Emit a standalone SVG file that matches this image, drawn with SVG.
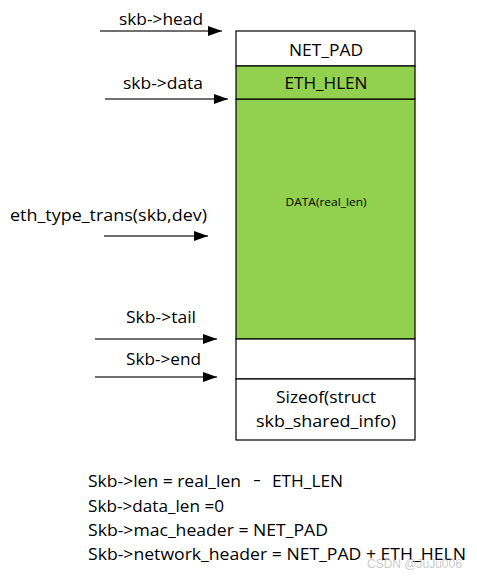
<svg xmlns="http://www.w3.org/2000/svg" width="477" height="577" viewBox="0 0 477 577">
<style>
.t{font-family:"Open Sans","Liberation Sans",sans-serif;font-size:17px;fill:#000}
.c{text-anchor:middle}
.box{stroke:#000;stroke-width:1.2}
.ln{stroke:#404040;stroke-width:1.5;fill:none}
</style>
<defs>
<marker id="ah" viewBox="0 0 14 10" refX="14" refY="5" markerWidth="14" markerHeight="10" markerUnits="userSpaceOnUse" orient="auto">
<path d="M0,0 L14,5 L0,10 Z" fill="#000"/>
</marker>
</defs>
<rect width="477" height="577" fill="#fff"/>
<g id="net_pad">
<rect class="box" x="236" y="31" width="179" height="35" fill="#fff"/>
<text class="t c" x="326" y="56" textLength="74" lengthAdjust="spacingAndGlyphs">NET_PAD</text>
</g>
<g id="data">
<rect class="box" x="236" y="99" width="179" height="240" fill="#92D050"/>
<text class="t c" x="326" y="206" style="font-size:11px" textLength="81" lengthAdjust="spacingAndGlyphs">DATA(real_len)</text>
</g>
<g id="eth_hlen">
<rect class="box" x="236" y="66" width="179" height="33" fill="#92D050"/>
<text class="t c" x="326" y="89" textLength="83" lengthAdjust="spacingAndGlyphs">ETH_HLEN</text>
</g>
<g id="tailroom">
<rect class="box" x="236" y="339" width="179" height="40" fill="#fff"/>
</g>
<g id="shinfo">
<rect class="box" x="236" y="379" width="179" height="61" fill="#fff"/>
<text class="t c" x="326" y="403" textLength="100" lengthAdjust="spacingAndGlyphs">Sizeof(struct</text>
<text class="t c" x="326" y="427" textLength="140" lengthAdjust="spacingAndGlyphs">skb_shared_info)</text>
</g>
<g id="connectors">
<line class="ln" x1="100" y1="31" x2="222" y2="31" marker-end="url(#ah)"/>
<line class="ln" x1="105" y1="99" x2="228" y2="99" marker-end="url(#ah)"/>
<line class="ln" x1="104" y1="236" x2="208" y2="236" marker-end="url(#ah)"/>
<line class="ln" x1="95" y1="339" x2="217" y2="339" marker-end="url(#ah)"/>
<line class="ln" x1="95" y1="377" x2="217" y2="377" marker-end="url(#ah)"/>
</g>
<g id="labels">
<text class="t" x="119" y="25" textLength="84" lengthAdjust="spacingAndGlyphs">skb-&gt;head</text>
<text class="t" x="123" y="89" textLength="80" lengthAdjust="spacingAndGlyphs">skb-&gt;data</text>
<text class="t" x="10" y="221" textLength="197" lengthAdjust="spacingAndGlyphs">eth_type_trans(skb,dev)</text>
<text class="t" x="126" y="323" textLength="70" lengthAdjust="spacingAndGlyphs">Skb-&gt;tail</text>
<text class="t" x="126" y="365" textLength="75" lengthAdjust="spacingAndGlyphs">Skb-&gt;end</text>
</g>
<g id="notes">
<text class="t" x="88" y="487" textLength="153" lengthAdjust="spacingAndGlyphs">Skb-&gt;len = real_len</text>
<text class="t" x="253" y="485" textLength="8" lengthAdjust="spacingAndGlyphs">-</text>
<text class="t" x="272" y="487" textLength="71" lengthAdjust="spacingAndGlyphs">ETH_LEN</text>
<text class="t" x="88" y="512" textLength="136" lengthAdjust="spacingAndGlyphs">Skb-&gt;data_len =0</text>
<text class="t" x="88" y="536" textLength="240" lengthAdjust="spacingAndGlyphs">Skb-&gt;mac_header = NET_PAD</text>
<text class="t" x="88" y="560" textLength="378" lengthAdjust="spacingAndGlyphs">Skb-&gt;network_header = NET_PAD + ETH_HELN</text>
<text x="367" y="568" style="font-family:'Liberation Sans',sans-serif;font-size:12px;fill:#bbb;fill-opacity:0.8">CSDN @JuJu006</text>
</g>
</svg>
